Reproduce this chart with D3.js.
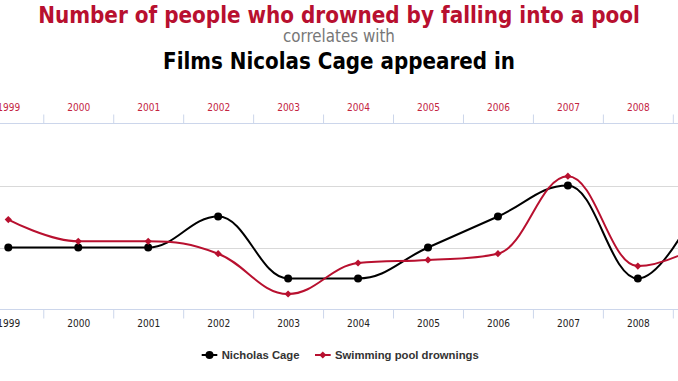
<!DOCTYPE html>
<html><head><meta charset="utf-8">
<script src="https://cdn.jsdelivr.net/npm/d3@7"></script>
<style>
html,body{margin:0;padding:0;background:#fff;overflow:hidden}
svg{display:block}
</style></head><body>
<svg id="c" width="678" height="381"></svg>
<script>
// ---- data ----
const years = [1999, 2000, 2001, 2002, 2003, 2004, 2005, 2006, 2007, 2008, 2009];
const cageFilms = [2, 2, 2, 3, 1, 1, 2, 3, 4, 1, 4];
const poolDrownings = [109, 102, 102, 98, 85, 95, 96, 98, 123, 94, 102];
const cageTicks = [0, 2, 4, 6];
const drownTicks = [80, 100, 120, 140];
const titleText = "Number of people who drowned by falling into a pool";
const subtitleText = "correlates with";
const title2Text = "Films Nicolas Cage appeared in";
const seriesNames = ["Nicholas Cage", "Swimming pool drownings"];

// ---- setup ----
const W = 678, H = 381;
const RED = "#b8102f", BLACK = "#000";
const COND = "'DejaVu Sans Condensed','DejaVu Sans',sans-serif";
const svg = d3.select("#c");
svg.append("rect").attr("width", W).attr("height", H).attr("fill", "#fff");

const x = d3.scaleLinear().domain([1999, 2009]).range([8.3, 707.8]);
const yTop = 123.5, yBot = 309.5;
const yC = d3.scaleLinear().domain([cageTicks[0], cageTicks[cageTicks.length-1]]).range([yBot, yTop]);
const yD = d3.scaleLinear().domain([drownTicks[0], drownTicks[drownTicks.length-1]]).range([yBot, yTop]);

function fit(sel, target) {
  const w = sel.node().getComputedTextLength();
  const fs = parseFloat(sel.attr("font-size"));
  sel.attr("font-size", (fs * target / w).toFixed(2));
}

// ---- titles ----
const t1 = svg.append("text").attr("x", 339).attr("y", 22.5).attr("text-anchor", "middle")
  .attr("font-family", COND).style("font-stretch", "condensed").attr("font-weight", "bold")
  .attr("font-size", 21).attr("fill", RED).text(titleText);
fit(t1, 602);
const t2 = svg.append("text").attr("x", 339).attr("y", 42).attr("text-anchor", "middle")
  .attr("font-family", COND).style("font-stretch", "condensed")
  .attr("font-size", 16).attr("fill", "#777").text(subtitleText);
fit(t2, 112);
const t3 = svg.append("text").attr("x", 339).attr("y", 68.5).attr("text-anchor", "middle")
  .attr("font-family", COND).style("font-stretch", "condensed").attr("font-weight", "bold")
  .attr("font-size", 22).attr("fill", "#000").text(title2Text);
fit(t3, 352);

// ---- gridlines ----
svg.append("g").selectAll("line").data(cageTicks.slice(1, -1)).join("line")
  .attr("x1", 0).attr("x2", W)
  .attr("y1", d => Math.round(yC(d)) + 0.5).attr("y2", d => Math.round(yC(d)) + 0.5)
  .attr("stroke", "#d9d9d9").attr("stroke-width", 1);

// ---- axes ----
const tickPos = [1998.5].concat(years.map(v => v + 0.5));
const visibleYears = years.filter(v => x(v) < W);
function styleAxis(g) {
  g.select(".domain").remove();
  g.selectAll(".tick line").attr("stroke", "#ccd6eb");
}
svg.append("g").attr("transform", `translate(0,${yTop})`)
  .call(d3.axisTop(x).tickValues(tickPos).tickSize(9).tickFormat(""))
  .call(styleAxis);
svg.append("g").attr("transform", `translate(0,${yBot})`)
  .call(d3.axisBottom(x).tickValues(tickPos).tickSize(9).tickFormat(""))
  .call(styleAxis);
[yTop, yBot].forEach(yy => svg.append("line").attr("x1", 0).attr("x2", W)
  .attr("y1", yy).attr("y2", yy).attr("stroke", "#ccd6eb").attr("stroke-width", 1.2));
const topLab = svg.append("g").attr("transform", `translate(0,${yTop})`)
  .call(d3.axisTop(x).tickValues(visibleYears).tickSize(0).tickPadding(12.6).tickFormat(d3.format("d")))
  .call(g => g.select(".domain").remove());
topLab.selectAll("text").attr("font-family", COND).style("font-stretch", "condensed")
  .attr("font-size", 10).attr("fill", "#c4243f");
const botLab = svg.append("g").attr("transform", `translate(0,${yBot})`)
  .call(d3.axisBottom(x).tickValues(visibleYears).tickSize(0).tickPadding(10.4).tickFormat(d3.format("d")))
  .call(g => g.select(".domain").remove());
botLab.selectAll("text").attr("font-family", COND).style("font-stretch", "condensed")
  .attr("font-size", 10).attr("fill", "#222");

// ---- Highcharts-like spline ----
function splinePath(pts) {
  const s = 1.5, den = s + 1, n = pts.length;
  const conts = pts.map((pt, i) => {
    if (i === 0 || i === n - 1) return null;
    const [lx, ly] = pts[i-1], [nx, ny] = pts[i+1], [px, py] = pt;
    let lcx = (s*px + lx)/den, lcy = (s*py + ly)/den;
    let rcx = (s*px + nx)/den, rcy = (s*py + ny)/den;
    let corr = 0;
    if (rcx !== lcx) corr = ((rcy - lcy) * (rcx - px)) / (rcx - lcx) + py - rcy;
    lcy += corr; rcy += corr;
    if (lcy > ly && lcy > py) { lcy = Math.max(ly, py); rcy = 2*py - lcy; }
    else if (lcy < ly && lcy < py) { lcy = Math.min(ly, py); rcy = 2*py - lcy; }
    if (rcy > ny && rcy > py) { rcy = Math.max(ny, py); lcy = 2*py - rcy; }
    else if (rcy < ny && rcy < py) { rcy = Math.min(ny, py); lcy = 2*py - rcy; }
    return {lcx, lcy, rcx, rcy};
  });
  const p = d3.path();
  p.moveTo(pts[0][0], pts[0][1]);
  for (let i = 1; i < n; i++) {
    const a = conts[i-1], b = conts[i];
    p.bezierCurveTo(a ? a.rcx : pts[i-1][0], a ? a.rcy : pts[i-1][1],
                    b ? b.lcx : pts[i][0], b ? b.lcy : pts[i][1],
                    pts[i][0], pts[i][1]);
  }
  return p.toString();
}
function diamond(cx, cy, r) {
  return `M${cx},${cy-r}L${cx+r},${cy}L${cx},${cy+r}L${cx-r},${cy}Z`;
}

const cagePts = years.map((yr, i) => [x(yr), yC(cageFilms[i])]);
const poolPts = years.map((yr, i) => [x(yr), yD(poolDrownings[i])]);

svg.append("path").attr("d", splinePath(cagePts)).attr("fill", "none")
  .attr("stroke", BLACK).attr("stroke-width", 2);
svg.append("g").selectAll("circle").data(cagePts).join("circle")
  .attr("cx", d => d[0]).attr("cy", d => d[1]).attr("r", 4).attr("fill", BLACK);

svg.append("path").attr("d", splinePath(poolPts)).attr("fill", "none")
  .attr("stroke", RED).attr("stroke-width", 2);
svg.append("g").selectAll("path").data(poolPts).join("path")
  .attr("d", d => diamond(d[0], d[1], 3.6)).attr("fill", RED);

// ---- legend ----
const LY = 355;
const lg = svg.append("g");
lg.append("line").attr("x1", 201.7).attr("x2", 217.3).attr("y1", LY).attr("y2", LY)
  .attr("stroke", BLACK).attr("stroke-width", 2);
lg.append("circle").attr("cx", 209.5).attr("cy", LY).attr("r", 4).attr("fill", BLACK);
lg.append("text").attr("x", 221.7).attr("y", LY + 3.6)
  .attr("font-family", "'Liberation Sans',Arial,sans-serif").attr("font-weight", "bold")
  .attr("font-size", 11.3).attr("fill", "#333").text(seriesNames[0]);
lg.append("line").attr("x1", 315).attr("x2", 330.7).attr("y1", LY).attr("y2", LY)
  .attr("stroke", RED).attr("stroke-width", 2);
lg.append("path").attr("d", diamond(322.8, LY, 3.6)).attr("fill", RED);
lg.append("text").attr("x", 335).attr("y", LY + 3.6)
  .attr("font-family", "'Liberation Sans',Arial,sans-serif").attr("font-weight", "bold")
  .attr("font-size", 11.3).attr("fill", "#333").text(seriesNames[1]);
</script>
</body></html>
